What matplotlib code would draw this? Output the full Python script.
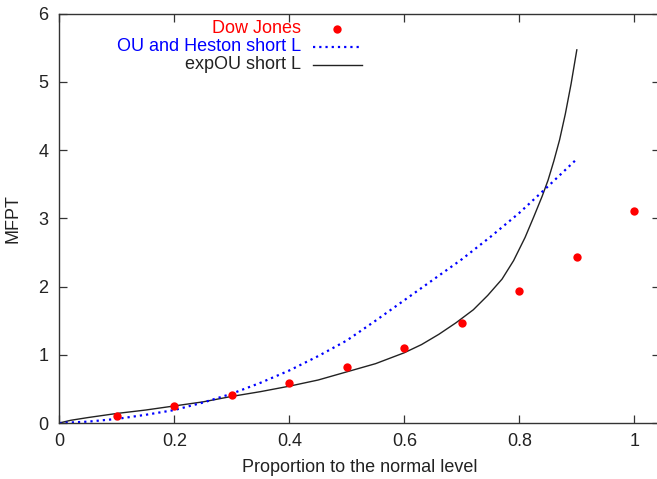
import matplotlib
matplotlib.use("Agg")
import matplotlib.pyplot as plt

plt.rcParams["font.family"] = ["Liberation Sans", "DejaVu Sans"]

# Dow Jones empirical MFPT
dj_x = [0.1, 0.2, 0.3, 0.4, 0.5, 0.6, 0.7, 0.8, 0.9, 1.0]
dj_y = [0.10, 0.25, 0.41, 0.58, 0.82, 1.10, 1.46, 1.94, 2.44, 3.11]

# OU / Heston short-L curve
ou_x = [0.0, 0.05, 0.1, 0.15, 0.2, 0.25, 0.3, 0.35, 0.4, 0.45, 0.5,
        0.55, 0.6, 0.65, 0.7, 0.75, 0.8, 0.85, 0.9]
ou_y = [0.0, 0.02, 0.06, 0.12, 0.19, 0.30, 0.43, 0.59, 0.77, 0.98, 1.21,
        1.50, 1.80, 2.10, 2.40, 2.73, 3.08, 3.47, 3.87]

# expOU short-L curve
eou_x = [0.0, 0.02, 0.05, 0.1, 0.15, 0.2, 0.25, 0.3, 0.35, 0.4, 0.45, 0.5,
         0.55, 0.6, 0.63, 0.66, 0.69, 0.72, 0.745, 0.77, 0.79, 0.81, 0.825,
         0.84, 0.85, 0.86, 0.87, 0.88, 0.89, 0.9]
eou_y = [0.0, 0.04, 0.08, 0.14, 0.19, 0.25, 0.31, 0.39, 0.46, 0.54, 0.63, 0.75,
         0.87, 1.03, 1.15, 1.30, 1.47, 1.66, 1.87, 2.11, 2.38, 2.72, 3.02,
         3.33, 3.56, 3.84, 4.15, 4.53, 4.97, 5.47]

labels = ["Dow Jones", "OU and Heston short L", "expOU short L"]
colors = ["#ff0000", "#0000ff", "#222222"]

fig = plt.figure(figsize=(6.57, 4.79), dpi=100)
ax = fig.add_axes([0.0903, 0.1169, 0.9143, 0.8545])

ax.plot(eou_x, eou_y, color=colors[2], lw=1.0)
ax.plot(ou_x, ou_y, color=colors[1], lw=1.6, linestyle=(0, (1, 1.8)))
ax.plot(dj_x, dj_y, "o", color=colors[0], ms=6, mec="none")

ax.set_xlim(0, 1.0447)
ax.set_ylim(0, 6)
ax.set_xticks([0, 0.2, 0.4, 0.6, 0.8, 1.0])
ax.set_xticklabels(["0", "0.2", "0.4", "0.6", "0.8", "1"])
ax.set_yticks(range(7))
ax.tick_params(direction="in", length=5.5, width=0.9, color="#333333",
               top=True, right=True, labelsize=13, labelcolor="#222222")
ax.tick_params(axis="x", pad=7)
ax.tick_params(axis="y", pad=8)
for s in ax.spines.values():
    s.set_color("#333333")
    s.set_linewidth(1.0)

ax.set_xlabel("Proportion to the normal level", fontsize=13, color="#222222", labelpad=7)
ax.set_ylabel("MFPT", fontsize=13, color="#222222", labelpad=12)

# gnuplot-style key: right-aligned labels with sample to the right
rows = [0.963, 0.919, 0.875]
for lab, col, yk, kind in zip(labels, colors, rows, ["pt", "dot", "line"]):
    ax.text(0.402, yk, lab, transform=ax.transAxes, ha="right", va="center",
            fontsize=13, color=col)
    if kind == "pt":
        ax.plot([0.462], [yk], "o", color=col, ms=6, mec="none",
                transform=ax.transAxes, clip_on=False)
    elif kind == "dot":
        ax.plot([0.422, 0.504], [yk, yk], color=col, lw=1.6,
                linestyle=(0, (1, 1.8)), transform=ax.transAxes)
    else:
        ax.plot([0.422, 0.504], [yk, yk], color=col, lw=1.0,
                transform=ax.transAxes)

fig.savefig("out.png", dpi=100)
